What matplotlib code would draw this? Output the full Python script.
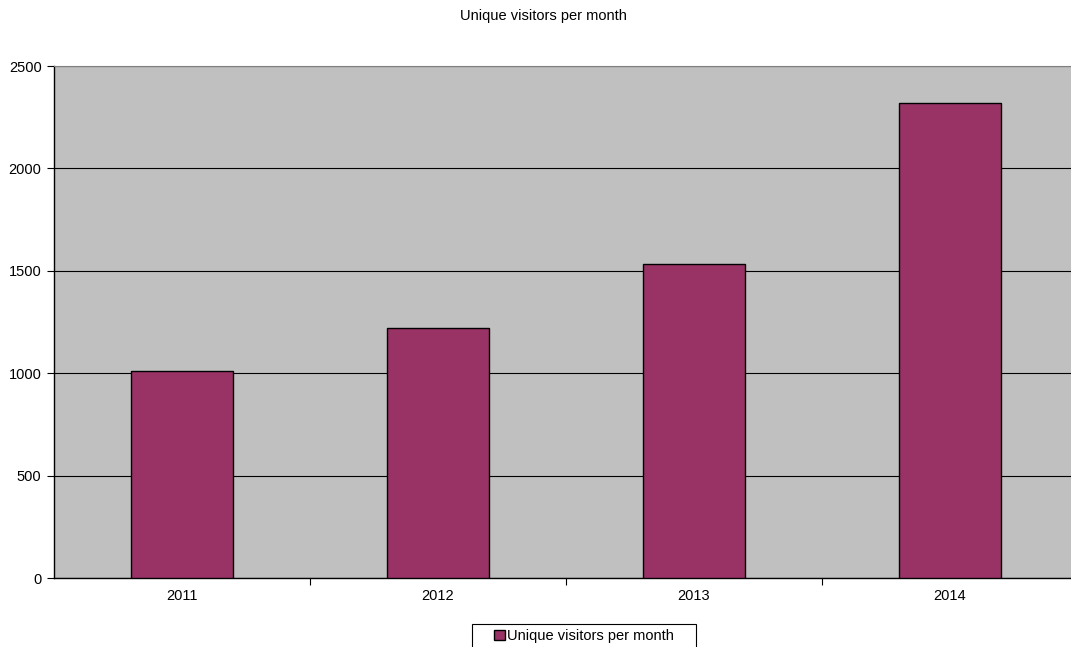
"""
Bar chart of unique visitors per month, one bar per year.
"""

import matplotlib.pyplot as plt
import numpy as np
from matplotlib.patches import Rectangle

years = ["2011", "2012", "2013", "2014"]
visitors = [1012, 1220, 1533, 2320]
series_name = "Unique visitors per month"


def main():
    """Entry point of the script."""

    plt.rcParams["font.family"] = ["Liberation Sans", "DejaVu Sans"]

    W, H = 1071, 647
    fig = plt.figure(figsize=(W / 100, H / 100), dpi=100)

    # Plot area placed in pixels, the right edge runs past the image
    left, right, top, bottom = 54, 1078, 66, 578
    ax = fig.add_axes([left / W, (H - bottom) / H, (right - left) / W, (bottom - top) / H])
    ax.set_facecolor("#C0C0C0")

    x = np.arange(len(years))
    ax.bar(x, visitors, width=0.4, color="#993366", edgecolor="black",
           linewidth=1.0, label=series_name, zorder=3)

    ax.set_xlim(-0.5, len(years) - 0.5)
    ax.set_ylim(0, 2500)
    ax.set_yticks(np.arange(0, 2501, 500))
    ax.yaxis.grid(True, color="black", linewidth=0.8, zorder=1)

    # Category labels centered, tick marks between categories
    ax.set_xticks(x)
    ax.set_xticklabels(years)
    ax.tick_params(axis="x", length=0, pad=8, labelsize=10.5)
    ax.set_xticks(np.arange(0.5, len(years) - 0.5), minor=True)
    ax.tick_params(axis="x", which="minor", length=5, width=0.8, direction="out")
    ax.tick_params(axis="y", length=5, width=0.8, direction="out", labelsize=10.5, pad=4)

    ax.spines["top"].set_color("#808080")
    ax.spines["right"].set_visible(False)
    ax.spines["left"].set_linewidth(1.0)
    ax.spines["bottom"].set_linewidth(1.0)

    fig.text(543 / W, 1 - 16 / H, series_name, ha="center", va="center", fontsize=10.5)

    # Legend without its own frame; the wide box runs off the bottom edge
    fig.legend(loc="center", bbox_to_anchor=(584 / W, 1 - 636 / H),
               fontsize=10.5, frameon=False,
               handlelength=0.75, handleheight=0.75, handletextpad=0.2,
               borderpad=0, borderaxespad=0)
    box = Rectangle((472 / W, -0.02), 224 / W, (647 - 624) / H + 0.02,
                    transform=fig.transFigure, fill=False, edgecolor="black",
                    linewidth=0.8)
    fig.add_artist(box)

    fig.savefig("out.png", dpi=100)


if __name__ == "__main__":
    main()
